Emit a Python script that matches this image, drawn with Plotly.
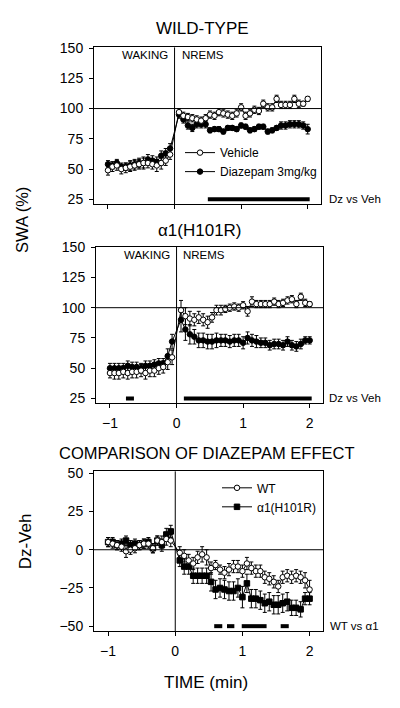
import plotly.graph_objects as go

# ---------------- data ----------------
time_min = [-1.0, -0.933, -0.867, -0.8, -0.733, -0.667, -0.6, -0.533, -0.467, -0.4,
            -0.333, -0.267, -0.2, -0.133, -0.067,
            0.067, 0.133, 0.2, 0.267, 0.333, 0.4, 0.467, 0.533, 0.6, 0.667,
            0.733, 0.8, 0.867, 0.933, 1.0, 1.067, 1.133, 1.2, 1.267, 1.333,
            1.4, 1.467, 1.533, 1.6, 1.667, 1.733, 1.8, 1.867, 1.933, 2.0]

# Panel 1: wild-type
wt_vehicle = [49, 52, 53, 50, 51, 52, 53, 54, 55, 55, 54, 53, 55, 57, 62,
              97, 94, 93, 92, 91, 90, 92, 95, 94, 97, 96, 95, 94, 96, 101,
              94, 96, 99, 98, 104, 101, 101, 108, 103, 103, 103, 108, 104, 104, 108]
wt_vehicle_err = [4, 4, 4, 4, 4, 4, 4, 4, 4, 4, 4, 5, 5, 4, 4,
                  3, 3, 3, 3, 3, 3, 3, 3, 3, 3, 3, 3, 3, 3, 3,
                  3, 3, 3, 3, 3, 3, 3, 3, 3, 3, 3, 3, 3, 2, 2]
wt_diazepam = [54, 53, 55, 52, 52, 53, 54, 55, 55, 58, 57, 56, 61, 63, 67,
               95, 91, 86, 84, 87, 87, 87, 82, 83, 83, 81, 84, 84, 83, 86,
               85, 82, 83, 85, 85, 81, 82, 84, 86, 86, 87, 87, 87, 86, 83]
wt_diazepam_err = [3, 3, 3, 3, 3, 4, 4, 4, 5, 4, 4, 4, 4, 4, 4,
                   3, 3, 3, 3, 3, 3, 3, 2, 2, 2, 2, 2, 2, 2, 2,
                   2, 2, 2, 2, 2, 2, 2, 2, 3, 3, 3, 3, 3, 3, 4]
wt_sig_start = [0.5]
wt_sig_end = [2.03]

# Panel 2: alpha1(H101R)
a1_vehicle = [46, 46, 46, 47, 46, 47, 47, 48, 46, 48, 48, 50, 51, 55, 59,
              98, 93, 91, 90, 92, 90, 88, 92, 98, 98, 99, 100, 101, 100, 102,
              97, 105, 103, 103, 103, 103, 105, 103, 104, 106, 107, 103, 109, 104, 103]
a1_vehicle_err = [4, 5, 5, 5, 5, 5, 5, 5, 5, 5, 5, 5, 5, 6, 6,
                  8, 7, 6, 5, 5, 5, 5, 4, 4, 4, 3, 3, 3, 3, 3,
                  4, 4, 3, 3, 3, 3, 3, 3, 3, 3, 3, 3, 3, 3, 2]
a1_diazepam = [50, 50, 50, 50, 52, 51, 51, 50, 52, 52, 53, 54, 54, 60, 72,
               90, 82, 78, 76, 73, 73, 72, 72, 73, 73, 73, 72, 73, 73, 71,
               75, 73, 72, 71, 71, 69, 70, 70, 69, 72, 69, 68, 70, 73, 73]
a1_diazepam_err = [4, 4, 4, 4, 4, 4, 4, 4, 4, 4, 4, 4, 4, 6, 6,
                   10, 9, 8, 6, 6, 6, 6, 6, 6, 5, 5, 5, 5, 5, 5,
                   5, 5, 5, 4, 4, 4, 4, 4, 4, 4, 4, 4, 4, 3, 3]
a1_sig_start = [-0.76, 0.11]
a1_sig_end = [-0.64, 2.03]

# Panel 3: Dz - Veh comparison
diff_wt = [5, 4, 3, 2, -1, 0, 1, 3, 4, 4, 1, 6, 5, 7, 6,
           -2, -4, -7, -9, -5, -3, -5, -12, -10, -13, -15, -13, -11, -11, -14,
           -9, -12, -14, -14, -18, -19, -21, -24, -18, -17, -18, -17, -18, -20, -26]
diff_wt_err = [3, 3, 3, 3, 4, 3, 3, 3, 3, 3, 3, 3, 4, 4, 4,
               4, 4, 4, 4, 4, 5, 5, 4, 3, 3, 4, 4, 4, 4, 4,
               4, 4, 4, 4, 4, 4, 4, 4, 4, 4, 4, 4, 4, 5, 6]
diff_a1 = [5, 5, 3, 4, 6, 3, 4, 3, 4, 5, 1, 6, 3, 10, 12,
           -7, -11, -11, -17, -17, -17, -17, -21, -26, -25, -26, -27, -27, -25, -31,
           -22, -32, -32, -33, -35, -34, -36, -36, -35, -34, -38, -38, -39, -32, -32]
diff_a1_err = [3, 3, 3, 3, 3, 3, 3, 3, 3, 3, 3, 3, 4, 4, 4,
               4, 5, 5, 5, 5, 5, 5, 6, 6, 6, 6, 6, 6, 6, 7,
               6, 6, 6, 6, 6, 6, 6, 6, 6, 6, 5, 5, 5, 4, 4]
cmp_sig_start = [0.58, 0.77, 0.99, 1.57]
cmp_sig_end = [0.70, 0.88, 1.36, 1.69]

sig_level_swa = 25
sig_level_diff = -50

# ---------------- figure ----------------
FONT = "Liberation Sans, Arial, Helvetica, sans-serif"
W, H = 400, 708
fig = go.Figure()


def series(x, y, err, name, symbol, filled, xa, ya):
    fig.add_trace(go.Scatter(
        x=x, y=y, mode="lines+markers", name=name,
        xaxis=xa, yaxis=ya, showlegend=False,
        line=dict(color="black", width=1),
        marker=dict(symbol=symbol, size=5.5,
                    color="black" if filled else "white",
                    line=dict(color="black", width=1)),
        error_y=dict(type="data", array=err, visible=True,
                     color="black", thickness=1, width=2),
    ))


def sig_bars(starts, ends, level, xa, ya):
    xs, ys = [], []
    for s, e in zip(starts, ends):
        xs += [s, e, None]
        ys += [level, level, None]
    fig.add_trace(go.Scatter(x=xs, y=ys, mode="lines", xaxis=xa, yaxis=ya,
                             showlegend=False, hoverinfo="skip",
                             line=dict(color="black", width=4)))


def legend_entry(name, symbol, filled, xa, ya, legend):
    fig.add_trace(go.Scatter(x=[None], y=[None], mode="lines+markers", name=name,
                             xaxis=xa, yaxis=ya, legend=legend, showlegend=True,
                             line=dict(color="black", width=1),
                             marker=dict(symbol=symbol, size=5.5,
                                         color="black" if filled else "white",
                                         line=dict(color="black", width=1))))


# Panel 1
series(time_min, wt_diazepam, wt_diazepam_err, "Diazepam 3mg/kg", "circle", True, "x", "y")
series(time_min, wt_vehicle, wt_vehicle_err, "Vehicle", "circle", False, "x", "y")
sig_bars(wt_sig_start, wt_sig_end, sig_level_swa, "x", "y")
# Panel 2
series(time_min, a1_diazepam, a1_diazepam_err, "Diazepam", "circle", True, "x2", "y2")
series(time_min, a1_vehicle, a1_vehicle_err, "Vehicle", "circle", False, "x2", "y2")
sig_bars(a1_sig_start, a1_sig_end, sig_level_swa, "x2", "y2")
# Panel 3
series(time_min, diff_a1, diff_a1_err, "α1(H101R)", "square", True, "x3", "y3")
series(time_min, diff_wt, diff_wt_err, "WT", "circle", False, "x3", "y3")
sig_bars(cmp_sig_start, cmp_sig_end, sig_level_diff, "x3", "y3")

legend_entry("Vehicle", "circle", False, "x", "y", "legend")
legend_entry("Diazepam 3mg/kg", "circle", True, "x", "y", "legend")
legend_entry("WT", "circle", False, "x3", "y3", "legend2")
legend_entry("α1(H101R)", "square", True, "x3", "y3", "legend2")


def px_x(p):
    return p / W


def px_y(p):
    return 1 - p / H


axis_common = dict(showline=True, mirror=True, linecolor="black", linewidth=1,
                   ticks="outside", ticklen=4, tickwidth=1, tickcolor="black",
                   showgrid=False, zeroline=False,
                   tickfont=dict(family=FONT, size=14, color="black"))

xr = [-1.21, 2.2]
fig.update_layout(
    width=W, height=H, margin=dict(l=0, r=0, t=0, b=0),
    paper_bgcolor="white", plot_bgcolor="white",
    font=dict(family=FONT, color="black"),
    xaxis=dict(domain=[px_x(94), px_x(321)], range=xr, tickvals=[-1, 0, 1, 2],
               showticklabels=False, anchor="y", **axis_common),
    yaxis=dict(domain=[px_y(200), px_y(41)], range=[21, 150.5],
               tickvals=[25, 50, 75, 100, 125, 150], anchor="x",
               ticklabelstandoff=3, **axis_common),
    xaxis2=dict(domain=[px_x(96), px_x(323)], range=xr, tickvals=[-1, 0, 1, 2],
                anchor="y2", ticklabelstandoff=3, **axis_common),
    yaxis2=dict(domain=[px_y(402), px_y(243)], range=[21, 150.5],
                tickvals=[25, 50, 75, 100, 125, 150], anchor="x2",
                ticklabelstandoff=3, **axis_common),
    xaxis3=dict(domain=[px_x(94), px_x(323)], range=xr, tickvals=[-1, 0, 1, 2],
                anchor="y3", ticklabelstandoff=3, **axis_common),
    yaxis3=dict(domain=[px_y(633), px_y(471)], range=[-53.2, 51.3],
                tickvals=[-50, -25, 0, 25, 50], anchor="x3",
                ticklabelstandoff=3, **axis_common),
    legend=dict(x=px_x(180), y=px_y(133), xanchor="left", yanchor="top",
                bgcolor="rgba(0,0,0,0)", font=dict(family=FONT, size=12),
                tracegroupgap=0, itemclick=False),
    legend2=dict(x=px_x(217), y=px_y(473), xanchor="left", yanchor="top",
                 bgcolor="rgba(0,0,0,0)", font=dict(family=FONT, size=12),
                 tracegroupgap=0, itemclick=False),
    showlegend=True,
)

# Reference lines
for xa, ya, yv in [("x", "y", 100), ("x2", "y2", 100), ("x3", "y3", 0)]:
    fig.add_shape(type="line", xref=f"{xa} domain", yref=ya, x0=0, x1=1, y0=yv, y1=yv,
                  line=dict(color="black", width=1))
    fig.add_shape(type="line", xref=xa, yref=f"{ya} domain", x0=0, x1=0, y0=0, y1=1,
                  line=dict(color="black", width=1))


def text(s, xp, yp, size, xanchor="center", angle=0):
    fig.add_annotation(text=s, x=px_x(xp), y=px_y(yp), xref="paper", yref="paper",
                       showarrow=False, xanchor=xanchor, yanchor="middle",
                       textangle=angle, font=dict(family=FONT, size=size, color="black"))


text("WILD-TYPE", 203, 22, 17)
text("α1(H101R)", 200, 227, 17)
text("COMPARISON OF DIAZEPAM EFFECT", 207, 452, 16.5)
text("SWA (%)", 22, 216, 16.5, angle=-90)
text("Dz-Veh", 25, 542, 17, angle=-90)
text("TIME (min)", 206, 685, 17)
text("WAKING", 145, 49, 11.5)
text("NREMS", 203, 49, 11.5)
text("WAKING", 147, 252, 11.5)
text("NREMS", 204, 252, 11.5)
text("Dz vs Veh", 327, 195, 11.5, xanchor="left")
text("Dz vs Veh", 327, 397, 11.5, xanchor="left")
text("WT vs α1", 328, 628, 11.5, xanchor="left")

fig.write_html("out.html", config={"displayModeBar": False, "staticPlot": True})

# remove default page margins so the 400x708 figure fills the window exactly
with open("out.html", "r", encoding="utf-8") as f:
    html = f.read()
html = html.replace("<head>", "<head><style>html,body{margin:0;padding:0;overflow:hidden;}</style>", 1)
with open("out.html", "w", encoding="utf-8") as f:
    f.write(html)
